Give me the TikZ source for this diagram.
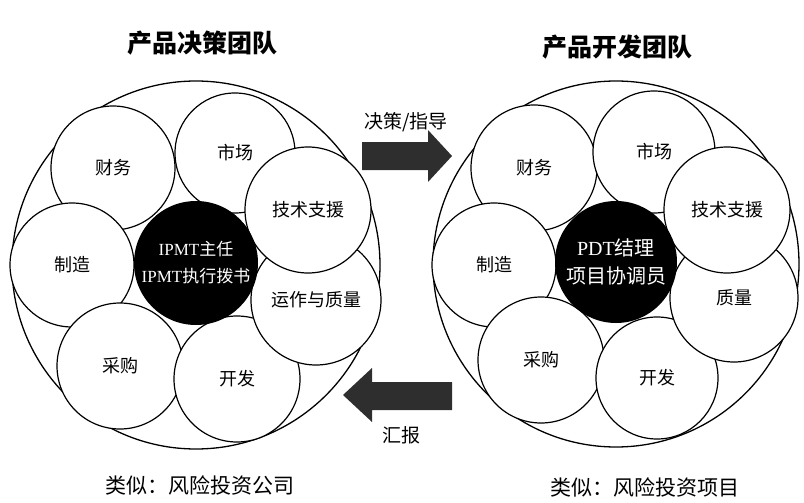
\documentclass[tikz,border=0pt]{standalone}
\usepackage{fontspec}
\setmainfont{Noto Sans CJK SC}
\newfontfamily\latinserif{Liberation Serif}

\begin{document}
\begin{tikzpicture}[x=1pt,y=-1pt,
  team/.style={circle,draw,line width=1.3pt,inner sep=0pt},
  unit/.style={circle,draw,fill=white,line width=1.2pt,inner sep=0pt,font=\fontsize{18}{20}\selectfont},
  core/.style={circle,fill=black,text=white,inner sep=0pt,align=center},
  title/.style={font=\fontsize{25}{28}\selectfont\bfseries},
  caption/.style={font=\fontsize{21}{24}\selectfont},
  flow/.style={fill=black!82}]

\useasboundingbox (0,0) rectangle (804,503);

\node[title] (lefttitle) at (202,43) {产品决策团队};
\node[title] (righttitle) at (617,47) {产品开发团队};

% product decision team
\node[team,minimum size=368] (ipmt) at (196,265) {};
\node[unit,minimum size=124] (lcw) at (113,168) {财务};
\node[unit,minimum size=120] (lsc) at (235,153) {市场};
\node[unit,minimum size=124] (lzz) at (72,265) {制造};
\node[unit,minimum size=126] (lcg) at (120,366) {采购};
\node[unit,minimum size=126] (lkf) at (237,379) {开发};
\node[unit,minimum size=130] (lzl) at (316,300) {运作与质量};
\node[unit,minimum size=126] (ljs) at (308,210) {技术支援};
\node[core,minimum size=124,font=\fontsize{17}{27}\selectfont] (lcore) at (196,263)
  {{\latinserif IPMT}主任\\{\latinserif IPMT}执行拨书};

% product development team
\node[team,minimum size=366] (pdt) at (616,264) {};
\node[unit,minimum size=126] (rcw) at (534,168) {财务};
\node[unit,minimum size=122] (rsc) at (654,152) {市场};
\node[unit,minimum size=124] (rzz) at (494,265) {制造};
\node[unit,minimum size=126] (rcg) at (541,360) {采购};
\node[unit,minimum size=122] (rkf) at (657,378) {开发};
\node[unit,minimum size=128] (rzl) at (734,298) {质量};
\node[unit,minimum size=126] (rjs) at (727,210) {技术支援};
\node[core,minimum size=122,font=\fontsize{20}{28}\selectfont] (rcore) at (616,262)
  {{\latinserif PDT}结理\\项目协调员};

% arrows between the teams
\fill[flow] (362,142) -- (428,142) -- (428,130) -- (452,156) -- (428,182) -- (428,170) -- (362,170) -- cycle;
\fill[flow] (452,382) -- (372,382) -- (372,368) -- (343,395) -- (372,422) -- (372,410) -- (452,410) -- cycle;
\node[font=\fontsize{19}{22}\selectfont] (decide) at (406,122) {决策/指导};
\node[font=\fontsize{19}{22}\selectfont] (report) at (401,435) {汇报};

\node[caption] (leftcap) at (200,485) {类似：风险投资公司};
\node[caption] (rightcap) at (645,487) {类似：风险投资项目};
\end{tikzpicture}
\end{document}
